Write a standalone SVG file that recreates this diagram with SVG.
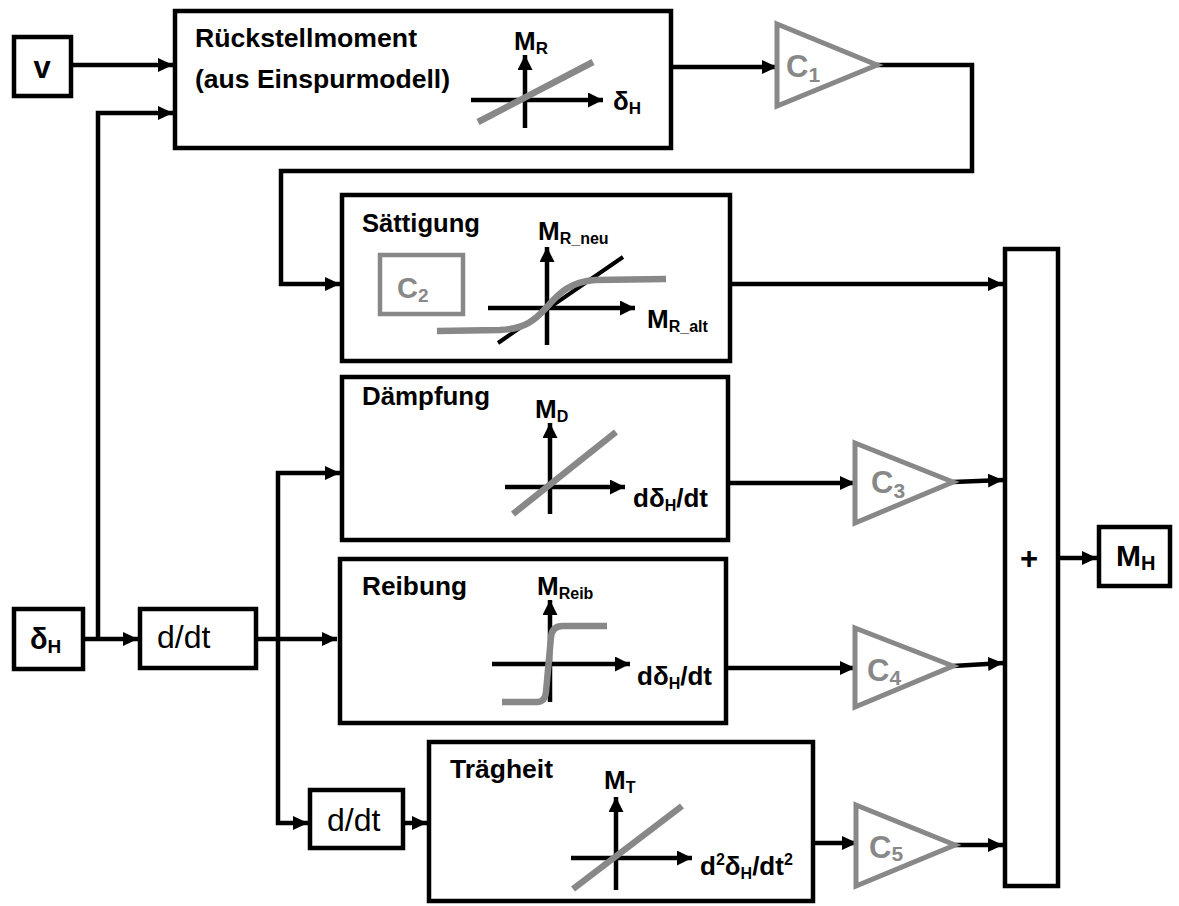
<svg xmlns="http://www.w3.org/2000/svg" width="1179" height="906" viewBox="0 0 1179 906">
<style>
.box{fill:#fff;stroke:#000;stroke-width:4.5}
.gbox{fill:#fff;stroke:#888;stroke-width:4.5}
.tri{fill:#fff;stroke:#888;stroke-width:5;stroke-linejoin:miter}
.con{fill:none;stroke:#000;stroke-width:4.5;marker-end:url(#ah)}
.ax{fill:none;stroke:#000;stroke-width:4.5;marker-end:url(#axh)}
.gl{fill:none;stroke:#888;stroke-width:6.5}
.bl{fill:none;stroke:#000;stroke-width:4}
.t{font-family:"Liberation Sans",Arial,sans-serif;font-weight:bold;fill:#000}
.r{font-family:"Liberation Sans",Arial,sans-serif;fill:#000}
.g{font-family:"Liberation Sans",Arial,sans-serif;font-weight:bold;fill:#888}
</style>
<defs>
<marker id="ah" viewBox="0 0 15 14" refX="15" refY="7" markerWidth="15" markerHeight="14" markerUnits="userSpaceOnUse" orient="auto"><path d="M0,0 L15,7 L0,14 z" fill="#000"/></marker>
<marker id="axh" viewBox="0 0 15 15" refX="15" refY="7.5" markerWidth="15" markerHeight="15" markerUnits="userSpaceOnUse" orient="auto"><path d="M0,0 L15,7.5 L0,15 z" fill="#000"/></marker>
</defs>
<rect width="1179" height="906" fill="#fff"/>

<g id="connectors">
<path class="con" d="M73,65 H173"/>
<path class="con" d="M85,639 H138"/>
<path class="con" d="M98,639 V113 H173"/>
<path class="con" d="M673,67 H777"/>
<path class="con" d="M877,65 H972 V171 H281 V284 H340"/>
<path class="con" d="M732,284 H1003"/>
<path class="con" d="M258,639 H337"/>
<path class="con" d="M278,639 V473 H340"/>
<path class="con" d="M278,639 V823 H308"/>
<path class="con" d="M405,823 H427"/>
<path class="con" d="M730,483 H855"/>
<path class="con" d="M953,482 L1003,480"/>
<path class="con" d="M728,668 H855"/>
<path class="con" d="M953,666 L1003,663"/>
<path class="con" d="M815,843 H857"/>
<path class="con" d="M955,845 H1003"/>
<path class="con" d="M1060,558 H1097"/>
</g>

<g id="v">
<rect class="box" x="14" y="37" width="57" height="59"/>
<text class="t" x="42" y="78" font-size="31" text-anchor="middle">v</text>
</g>

<g id="rueckstellmoment">
<rect class="box" x="175" y="11" width="496" height="137"/>
<text class="t" x="195" y="47" font-size="25" textLength="222" lengthAdjust="spacingAndGlyphs">Rückstellmoment</text>
<text class="t" x="195" y="88" font-size="25" textLength="255" lengthAdjust="spacingAndGlyphs">(aus Einspurmodell)</text>
<path class="ax" d="M525,128 V55"/>
<path class="ax" d="M471,100 H603"/>
<path class="gl" d="M478,122 L593,62"/>
<text class="t" x="514" y="50" font-size="26">M<tspan font-size="17" dy="4">R</tspan></text>
<text class="t" x="613" y="110" font-size="26">δ<tspan font-size="17" dy="4">H</tspan></text>
</g>

<g id="c1">
<polygon class="tri" points="777,24 877,65 777,106"/>
<text class="g" x="786" y="77" font-size="31">C<tspan font-size="21" dy="5">1</tspan></text>
</g>

<g id="saettigung">
<rect class="box" x="342" y="195" width="388" height="166"/>
<text class="t" x="362" y="232" font-size="25" textLength="118" lengthAdjust="spacingAndGlyphs">Sättigung</text>
<rect class="gbox" x="380" y="255" width="83" height="59"/>
<text class="g" x="397" y="298" font-size="29">C<tspan font-size="19" dy="4">2</tspan></text>
<path class="ax" d="M547,345 V247"/>
<path class="ax" d="M488,308 H635"/>
<path class="bl" d="M498,343 L623,257"/>
<path class="gl" d="M437,331 L500,330 C525,329 535,320 546,308 C560,292 570,282 595,280 L666,279"/>
<text class="t" x="538" y="240" font-size="26">M<tspan font-size="16" dy="4">R_neu</tspan></text>
<text class="t" x="647" y="328" font-size="26">M<tspan font-size="16" dy="4">R_alt</tspan></text>
</g>

<g id="daempfung">
<rect class="box" x="342" y="377" width="386" height="163"/>
<text class="t" x="362" y="405" font-size="25" textLength="128" lengthAdjust="spacingAndGlyphs">Dämpfung</text>
<path class="ax" d="M550,514 V423"/>
<path class="ax" d="M505,487 H625"/>
<path class="gl" d="M513,514 L616,432"/>
<text class="t" x="535" y="418" font-size="26">M<tspan font-size="16" dy="4">D</tspan></text>
<text class="t" x="633" y="507" font-size="26">dδ<tspan font-size="16" dy="4">H</tspan><tspan dy="-4">/dt</tspan></text>
</g>

<g id="reibung">
<rect class="box" x="340" y="559" width="386" height="164"/>
<text class="t" x="362" y="595" font-size="25" textLength="105" lengthAdjust="spacingAndGlyphs">Reibung</text>
<path class="ax" d="M550,702 V600"/>
<path class="ax" d="M492,664 H630"/>
<path class="gl" d="M502,702 L537,702 Q545,702 546,692 L551,637 Q552,626 563,626 L607,626"/>
<text class="t" x="537" y="595" font-size="26">M<tspan font-size="16" dy="4">Reib</tspan></text>
<text class="t" x="637" y="685" font-size="26">dδ<tspan font-size="16" dy="4">H</tspan><tspan dy="-4">/dt</tspan></text>
</g>

<g id="traegheit">
<rect class="box" x="429" y="742" width="384" height="159"/>
<text class="t" x="450" y="778" font-size="25" textLength="103" lengthAdjust="spacingAndGlyphs">Trägheit</text>
<path class="ax" d="M616,890 V797"/>
<path class="ax" d="M571,858 H692"/>
<path class="gl" d="M573,889 L682,806"/>
<text class="t" x="604" y="789" font-size="26">M<tspan font-size="16" dy="4">T</tspan></text>
<text class="t" x="700" y="875" font-size="26">d<tspan font-size="16" dy="-10">2</tspan><tspan dy="10">δ</tspan><tspan font-size="16" dy="4">H</tspan><tspan dy="-4">/dt</tspan><tspan font-size="16" dy="-10">2</tspan></text>
</g>

<g id="delta_h">
<rect class="box" x="14" y="609" width="69" height="60"/>
<text class="t" x="30" y="649" font-size="29">δ<tspan font-size="19" dy="4">H</tspan></text>
</g>

<g id="ddt1">
<rect class="box" x="140" y="609" width="116" height="59"/>
<text class="r" x="157" y="648" font-size="32">d/dt</text>
</g>

<g id="ddt2">
<rect class="box" x="310" y="790" width="93" height="58"/>
<text class="r" x="327" y="831" font-size="32">d/dt</text>
</g>

<g id="c3">
<polygon class="tri" points="855,443 953,482 855,523"/>
<text class="g" x="871" y="493" font-size="31">C<tspan font-size="21" dy="5">3</tspan></text>
</g>

<g id="c4">
<polygon class="tri" points="855,628 953,666 855,707"/>
<text class="g" x="867" y="681" font-size="31">C<tspan font-size="21" dy="4">4</tspan></text>
</g>

<g id="c5">
<polygon class="tri" points="856,805 955,845 856,886"/>
<text class="g" x="869" y="858" font-size="31">C<tspan font-size="21" dy="3">5</tspan></text>
</g>

<g id="sum">
<rect class="box" x="1005" y="249" width="53" height="637"/>
<text class="t" x="1029" y="569" font-size="31" text-anchor="middle">+</text>
</g>

<g id="m_h">
<rect class="box" x="1099" y="527" width="71" height="59"/>
<text class="t" x="1116" y="566" font-size="30">M<tspan font-size="20" dy="4">H</tspan></text>
</g>
</svg>
